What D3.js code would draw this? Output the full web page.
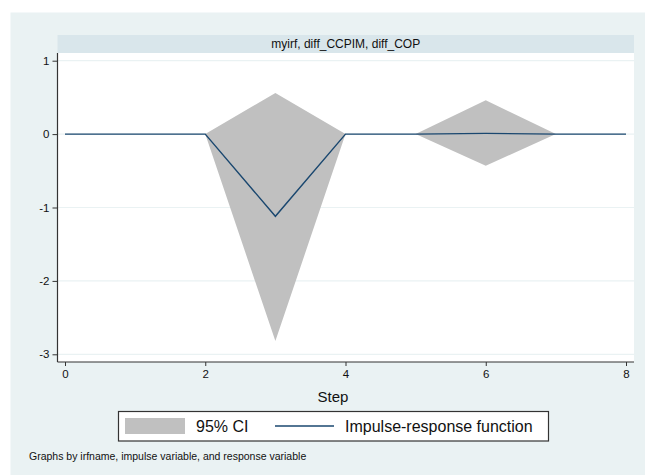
<!DOCTYPE html>
<html>
<head>
<meta charset="utf-8">
<script src="https://cdn.jsdelivr.net/npm/d3@7"></script>
<style>
  body { margin: 0; background: #fff; }
  svg { display: block; font-family: "Liberation Sans", Arial, sans-serif; }
</style>
</head>
<body>
<div class="canvas"></div>
<script>
// data
const steps = [0, 1, 2, 3, 4, 5, 6, 7, 8];
const irf = [0, 0, 0, -1.12, 0, 0, 0.01, 0, 0];
const ciUpper = [0, 0, 0, 0.56, 0, 0, 0.46, 0, 0];
const ciLower = [0, 0, 0, -2.82, 0, 0, -0.43, 0, 0];
const xTicks = [0, 2, 4, 6, 8];
const yTicks = [1, 0, -1, -2, -3];
const panelTitle = 'myirf, diff_CCPIM, diff_COP';
const legendLabels = ['95% CI', 'Impulse-response function'];
const note = 'Graphs by irfname, impulse variable, and response variable';

const svg = d3.select('.canvas')
  .append('svg')
  .attr('width', 645)
  .attr('height', 475);

// outer graph region
svg.append('rect')
  .attr('x', 10.5).attr('y', 12.5)
  .attr('width', 645).attr('height', 470)
  .attr('fill', '#eaf2f3');

// plot region
const plot = { left: 57.5, right: 634, top: 53, bottom: 362 };

// title strip
svg.append('rect')
  .attr('x', plot.left).attr('y', 35)
  .attr('width', plot.right - plot.left).attr('height', 18)
  .attr('fill', '#d9e6eb');
svg.append('text')
  .attr('x', (plot.left + plot.right) / 2).attr('y', 48)
  .attr('text-anchor', 'middle')
  .attr('font-size', 12)
  .attr('fill', '#111')
  .text(panelTitle);

svg.append('rect')
  .attr('x', plot.left).attr('y', plot.top)
  .attr('width', plot.right - plot.left).attr('height', plot.bottom - plot.top)
  .attr('fill', '#fff');

//scales
const x = d3.scaleLinear().domain([0, 8]).range([65, 626]);
const y = d3.scaleLinear().domain([-3, 1]).range([354.3, 60.7]);

// gridlines
svg.append('g')
  .selectAll('line')
  .data(yTicks)
  .enter().append('line')
  .attr('x1', plot.left).attr('x2', plot.right)
  .attr('y1', d => y(d)).attr('y2', d => y(d))
  .attr('stroke', '#eaf2f3')
  .attr('stroke-width', 1.2);

// confidence band
const area = d3.area()
  .x((d, i) => x(steps[i]))
  .y0((d, i) => y(ciLower[i]))
  .y1((d, i) => y(ciUpper[i]));
svg.append('path')
  .datum(steps)
  .attr('d', area)
  .attr('fill', '#c0c0c0');

// irf line
const line = d3.line()
  .x((d, i) => x(steps[i]))
  .y((d, i) => y(irf[i]));
svg.append('path')
  .datum(steps)
  .attr('d', line)
  .attr('fill', 'none')
  .attr('stroke', '#1a476f')
  .attr('stroke-width', 1.4);

// axes
const xAxis = d3.axisBottom(x).tickValues(xTicks).tickSize(4).tickPadding(4).tickSizeOuter(0)
  .tickFormat(d => String(d));
const yAxis = d3.axisLeft(y).tickValues(yTicks).tickSize(5).tickPadding(3).tickSizeOuter(0)
  .tickFormat(d => String(d));

const xAxisGroup = svg.append('g')
  .attr('transform', `translate(0,${plot.bottom})`)
  .call(xAxis);
xAxisGroup.select('.domain').attr('d', `M${plot.left},0H${plot.right}`);

const yAxisGroup = svg.append('g')
  .attr('transform', `translate(${plot.left},0)`)
  .call(yAxis);
yAxisGroup.select('.domain').attr('d', `M0,${plot.top}V${plot.bottom}`);

svg.selectAll('.domain').attr('stroke', '#333').attr('stroke-width', 1.2);
svg.selectAll('.tick line').attr('stroke', '#333');
svg.selectAll('.tick text')
  .attr('font-size', 11.5)
  .attr('fill', '#111')
  .attr('font-family', '"Liberation Sans", Arial, sans-serif');

// axis title
svg.append('text')
  .attr('x', 333).attr('y', 402)
  .attr('text-anchor', 'middle')
  .attr('font-size', 15)
  .attr('fill', '#111')
  .text('Step');

// legend
const legend = svg.append('g');
legend.append('rect')
  .attr('x', 118.5).attr('y', 411.5)
  .attr('width', 430).attr('height', 29.5)
  .attr('fill', '#fff')
  .attr('stroke', '#333')
  .attr('stroke-width', 1.2);
legend.append('rect')
  .attr('x', 125).attr('y', 418)
  .attr('width', 60).attr('height', 16)
  .attr('fill', '#c0c0c0');
legend.append('text')
  .attr('x', 196).attr('y', 432)
  .attr('font-size', 16).attr('fill', '#111')
  .text(legendLabels[0]);
legend.append('line')
  .attr('x1', 275).attr('x2', 334)
  .attr('y1', 426).attr('y2', 426)
  .attr('stroke', '#1a476f').attr('stroke-width', 1.4);
legend.append('text')
  .attr('x', 345).attr('y', 432)
  .attr('font-size', 16).attr('fill', '#111')
  .text(legendLabels[1]);

// note
svg.append('text')
  .attr('x', 29).attr('y', 460)
  .attr('font-size', 10.5).attr('fill', '#111')
  .text(note);
</script>
</body>
</html>
